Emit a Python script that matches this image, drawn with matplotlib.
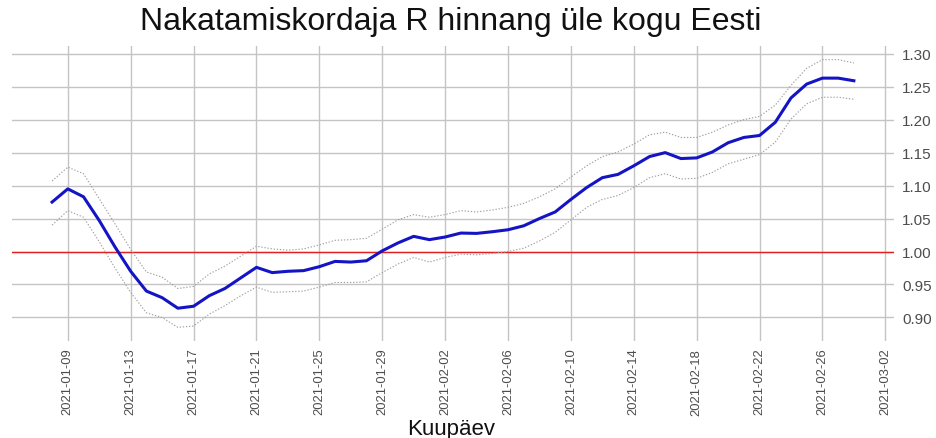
import matplotlib
matplotlib.use("Agg")
import matplotlib.pyplot as plt
import matplotlib.dates as mdates
import numpy as np
import pandas as pd

plt.rcParams["font.family"] = ["Liberation Sans", "DejaVu Sans"]

# R estimate for Estonia, daily from 2021-01-08 to 2021-02-28
dates = pd.date_range("2021-01-08", "2021-02-28", freq="D")

r_mean = [
    1.075, 1.095, 1.083, 1.047, 1.007, 0.970, 0.940, 0.930, 0.914, 0.917,
    0.933, 0.944, 0.960, 0.976, 0.968, 0.970, 0.971, 0.977, 0.985, 0.984,
    0.986, 1.001, 1.013, 1.023, 1.018, 1.022, 1.028, 1.0275, 1.030, 1.033,
    1.039, 1.050, 1.060, 1.079, 1.097, 1.112, 1.117, 1.130, 1.144, 1.150,
    1.141, 1.142, 1.151, 1.165, 1.173, 1.176, 1.196, 1.233, 1.254, 1.263,
    1.263, 1.259,
]
r_upper = [
    1.107, 1.128, 1.118, 1.080, 1.042, 1.003, 0.969, 0.961, 0.944, 0.947,
    0.966, 0.978, 0.993, 1.008, 1.004, 1.002, 1.004, 1.010, 1.017, 1.018,
    1.020, 1.034, 1.048, 1.056, 1.052, 1.056, 1.062, 1.060, 1.063, 1.067,
    1.073, 1.083, 1.095, 1.113, 1.130, 1.144, 1.151, 1.163, 1.177, 1.181,
    1.173, 1.173, 1.181, 1.192, 1.200, 1.205, 1.222, 1.252, 1.278, 1.291,
    1.291, 1.286,
]
r_lower = [
    1.040, 1.062, 1.052, 1.015, 0.975, 0.938, 0.907, 0.900, 0.885, 0.887,
    0.905, 0.918, 0.933, 0.946, 0.938, 0.939, 0.940, 0.946, 0.953, 0.953,
    0.954, 0.968, 0.981, 0.991, 0.984, 0.991, 0.996, 0.995, 0.997, 1.000,
    1.005, 1.016, 1.029, 1.048, 1.067, 1.079, 1.085, 1.097, 1.112, 1.118,
    1.110, 1.111, 1.120, 1.133, 1.140, 1.147, 1.166, 1.201, 1.224, 1.234,
    1.234, 1.231,
]

x_ticks = pd.date_range("2021-01-09", "2021-03-02", freq="4D")
y_ticks = [0.90, 0.95, 1.00, 1.05, 1.10, 1.15, 1.20, 1.25, 1.30]

GRID = "#c4c4c4"
TICK_TEXT = "#4d4d4d"

fig = plt.figure(figsize=(9.36, 4.39), dpi=100)
ax = fig.add_axes([0.0128, 0.2216, 0.9423, 0.6707])

ax.plot(dates, r_upper, color="#9e9e9e", lw=0.8, ls=(0, (1.2, 1.6)), zorder=3)
ax.plot(dates, r_lower, color="#9e9e9e", lw=0.8, ls=(0, (1.2, 1.6)), zorder=3)
ax.axhline(1.0, color="#e02020", lw=1.0, zorder=2)
ax.plot(dates, r_mean, color="#1414c4", lw=2.2, zorder=4)

# ggplot-style 5% expansion around the data
x0, x1 = mdates.date2num(dates[0]), mdates.date2num(dates[-1])
pad_x = 0.05 * (x1 - x0)
ax.set_xlim(x0 - pad_x, x1 + pad_x)
lo, hi = min(r_lower), max(r_upper)
pad_y = 0.05 * (hi - lo)
ax.set_ylim(lo - pad_y, hi + pad_y)

ax.set_xticks(x_ticks)
ax.xaxis.set_major_formatter(mdates.DateFormatter("%Y-%m-%d"))
ax.set_yticks(y_ticks)
ax.set_yticklabels([f"{v:.2f}" for v in y_ticks])
ax.yaxis.tick_right()

ax.tick_params(axis="x", length=0, pad=5, labelsize=9.4, colors=TICK_TEXT, labelrotation=90)
ax.tick_params(axis="y", length=0, pad=6, labelsize=11, colors=TICK_TEXT)
ax.grid(True, color=GRID, lw=1.0, zorder=0)
for s in ax.spines.values():
    s.set_visible(False)

fig.text(0.482, 1 - 22 / 439, "Nakatamiskordaja R hinnang üle kogu Eesti",
         ha="center", va="center", fontsize=23, color="#111111")
fig.text(0.482, 1 - 430 / 439, "Kuupäev", ha="center", va="center",
         fontsize=16, color="#111111")

fig.savefig("out.png", dpi=100)
